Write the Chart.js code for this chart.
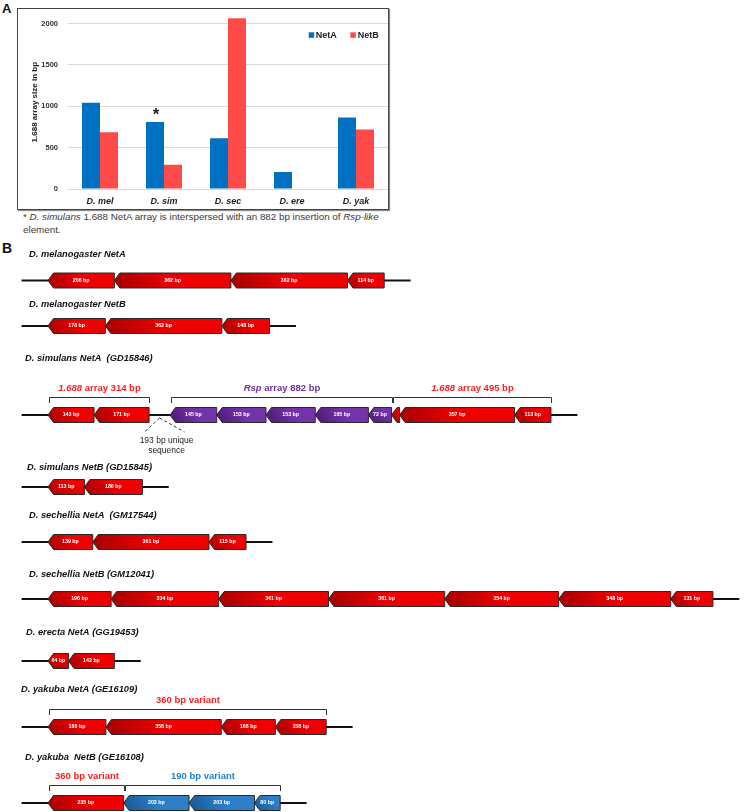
<!DOCTYPE html>
<html><head><meta charset="utf-8">
<script src="https://cdn.jsdelivr.net/npm/chart.js@4.4.0/dist/chart.umd.min.js"></script>
<style>
html,body{margin:0;padding:0;background:#fff;}
body{width:744px;height:812px;position:relative;overflow:hidden;font-family:'Liberation Sans',Arial,sans-serif;}
.letter{position:absolute;font-weight:bold;color:#111;line-height:1;}
#boxA{position:absolute;left:17px;top:8px;width:370px;height:200px;border:1px solid #444;box-shadow:1px 1px 1px rgba(0,0,0,0.45);}
#boxA canvas{display:block;}
#note{position:absolute;left:23px;top:209.5px;font-size:9.8px;line-height:13px;color:#3a3a3a;white-space:nowrap;}
#wrapB{position:absolute;left:0;top:240px;width:744px;height:572px;}
#wrapB canvas{display:block;}
</style></head><body>
<div class="letter" style="left:2px;top:2px;font-size:13px;">A</div>
<div id="boxA"><canvas id="chartA" width="370" height="200"></canvas></div>
<div id="note">* <i>D. simulans</i> 1.688 NetA array is interspersed with an 882 bp insertion of <i>Rsp-like</i><br>element.</div>
<div class="letter" style="left:2px;top:241px;font-size:14px;">B</div>
<div id="wrapB"><canvas id="chartB" width="744" height="572"></canvas></div>
<script>
// ---------------- DATA ----------------
const speciesLabels = ['D. mel', 'D. sim', 'D. sec', 'D. ere', 'D. yak'];
const netA = [1044, 809, 615, 206, 864];
const netB = [688, 293, 2065, null, 721];
const yTicks = [0, 500, 1000, 1500, 2000];

const rowTitles = [
  'D. melanogaster NetA',
  'D. melanogaster NetB',
  'D. simulans NetA  (GD15846)',
  'D. simulans NetB (GD15845)',
  'D. sechellia NetA  (GM17544)',
  'D. sechellia NetB (GM12041)',
  'D. erecta NetA (GG19453)',
  'D. yakuba NetA (GE16109)',
  'D. yakuba  NetB (GE16108)'
];
const melNetA = [206, 362, 362, 114];
const melNetB = [178, 362, 148];
const simNetA_left = [143, 171];
const simNetA_unique = 193;
const simNetA_rsp = [145, 153, 153, 165, 72];
const simNetA_right = [25, 357, 113];
const simNetB = [113, 180];
const secNetA = [139, 361, 115];
const secNetB = [196, 334, 341, 361, 354, 348, 131];
const ereNetA = [64, 142];
const yakNetA = [180, 358, 168, 158];
const yakNetB_360 = [235];
const yakNetB_190 = [203, 203, 80];

const label314 = [['1.688', true], [' array 314 bp', false]];
const label882 = [['Rsp', true], [' array 882 bp', false]];
const label495 = [['1.688', true], [' array 495 bp', false]];
const label360 = [['360 bp variant', false]];
const label190 = [['190 bp variant', false]];

// ---------------- STYLE / LAYOUT ----------------
const FONT = "'Liberation Sans', Arial, sans-serif";

const rows = [
  [{kind:'red', bp:melNetA}],
  [{kind:'red', bp:melNetB}],
  [{kind:'red', bp:simNetA_left, bracket:label314},
   {kind:'gap', bp:simNetA_unique},
   {kind:'purple', bp:simNetA_rsp, bracket:label882},
   {kind:'red', bp:simNetA_right, bracket:label495}],
  [{kind:'red', bp:simNetB}],
  [{kind:'red', bp:secNetA}],
  [{kind:'red', bp:secNetB}],
  [{kind:'red', bp:ereNetA}],
  [{kind:'red', bp:yakNetA, bracket:label360}],
  [{kind:'red', bp:yakNetB_360, bracket:label360},
   {kind:'blue', bp:yakNetB_190, bracket:label190}]
];
const ROW_LAYOUT = [
  {line:280.5, title:254, tx:29},
  {line:326, title:304, tx:29},
  {line:415, title:358, tx:25},
  {line:487, title:467, tx:27},
  {line:542, title:515, tx:29},
  {line:599, title:574, tx:29},
  {line:661, title:632, tx:26},
  {line:727, title:689, tx:21},
  {line:803, title:757, tx:25}
];
const COLORS = {
  red:{dark:'#a30000', light:'#ee0000', text:'#ff1f1f'},
  purple:{dark:'#48196f', light:'#7533ab', text:'#7030a0'},
  blue:{dark:'#175690', light:'#2e7fc8', text:'#1e82d2'}
};
const PX_PER_BP = 0.322, ORIGIN_PX = 48, CANVAS_B_W = 744;
const X_MIN = -ORIGIN_PX / PX_PER_BP, X_MAX = X_MIN + CANVAS_B_W / PX_PER_BP;
const FLANK_BP = 82, UNIQUE_GAP_BP = 65;

// ---------------- CHART A ----------------
const extrasA = {
  id:'extrasA',
  afterDatasetsDraw(chart){
    const ctx = chart.ctx;
    const bar = chart.getDatasetMeta(0).data[1];
    ctx.save();
    ctx.fillStyle = '#222';
    ctx.font = `bold 17px ${FONT}`;
    ctx.textAlign = 'center';
    ctx.textBaseline = 'alphabetic';
    ctx.fillText('*', bar.x + 1, bar.y - 2);
    // legend
    const items = [[290.7, 297.7], [332.3, 339.7]];
    chart.data.datasets.forEach((ds, i) => {
      ctx.fillStyle = ds.backgroundColor;
      ctx.fillRect(items[i][0], 23.3, 5.5, 5.5);
      ctx.fillStyle = '#222';
      ctx.font = `bold 9px ${FONT}`;
      ctx.textAlign = 'left';
      ctx.textBaseline = 'middle';
      ctx.fillText(ds.label, items[i][1], 26.3);
    });
    ctx.restore();
  }
};

new Chart(document.getElementById('chartA'), {
  type:'bar',
  data:{labels:speciesLabels, datasets:[
    {label:'NetA', data:netA, backgroundColor:'#0070C0', categoryPercentage:0.5625, barPercentage:1},
    {label:'NetB', data:netB, backgroundColor:'#FF4A4A', categoryPercentage:0.5625, barPercentage:1}
  ]},
  options:{
    responsive:false, animation:false, devicePixelRatio:1,
    layout:{padding:{left:8, top:6.4, right:0, bottom:0}},
    plugins:{legend:{display:false}, tooltip:{enabled:false}},
    scales:{
      x:{grid:{display:false, drawTicks:false, tickLength:0}, border:{display:false},
         ticks:{padding:7, color:'#222', font:{family:FONT, size:9, weight:'bold', style:'italic'}},
         afterFit(s){ s.height = 20; s.paddingLeft = 0; s.paddingRight = 0; }},
      y:{min:0, max:2100,
         afterBuildTicks(s){ s.ticks = yTicks.map(v => ({value:v})); },
         grid:{color:'#d9d9d9', drawTicks:false, tickLength:0}, border:{display:false},
         ticks:{padding:10, color:'#333', font:{family:FONT, size:7.5, weight:'bold'}, callback:(v) => String(v)},
         title:{display:true, text:'1.688 array size in bp', color:'#222', font:{family:FONT, size:8, weight:'bold'}, padding:{top:4, bottom:4}},
         afterFit(s){ s.width = 42; s.paddingTop = 0; s.paddingBottom = 0; }}
    }
  },
  plugins:[extrasA]
});

// ---------------- CHART B ----------------
function drawArrow(ctx, x0, x1, yc, kind, bp){
  const h = 7.5, head = Math.min(5.5, (x1 - x0) * 0.7);
  ctx.beginPath();
  ctx.moveTo(x0, yc);
  ctx.lineTo(x0 + head, yc - h);
  ctx.lineTo(x1, yc - h);
  ctx.lineTo(x1, yc + h);
  ctx.lineTo(x0 + head, yc + h);
  ctx.closePath();
  const c = COLORS[kind];
  const g = ctx.createLinearGradient(x0, yc + h, x0 + (x1 - x0) * 0.5, yc - h);
  g.addColorStop(0, c.dark);
  g.addColorStop(1, c.light);
  ctx.fillStyle = g;
  ctx.fill();
  ctx.strokeStyle = '#2a2a2a';
  ctx.lineWidth = 1;
  ctx.stroke();
  if (bp >= 40) {
    ctx.fillStyle = '#fff';
    ctx.font = `bold 5.3px ${FONT}`;
    ctx.textAlign = 'center';
    ctx.textBaseline = 'middle';
    ctx.fillText(bp + ' bp', (x0 + x1) / 2, yc);
  }
}

function drawParts(ctx, parts, cx, cy, color, size){
  let total = 0;
  const fonts = parts.map(([t, it]) => `${it ? 'italic ' : ''}bold ${size}px ${FONT}`);
  parts.forEach(([t], i) => { ctx.font = fonts[i]; total += ctx.measureText(t).width; });
  let x = cx - total / 2;
  ctx.fillStyle = color;
  ctx.textAlign = 'left';
  ctx.textBaseline = 'middle';
  parts.forEach(([t], i) => { ctx.font = fonts[i]; ctx.fillText(t, x, cy); x += ctx.measureText(t).width; });
}

const diagram = {
  id:'diagram',
  afterDraw(chart){
    const {ctx, scales:{x, y}} = chart;
    ctx.save();
    rows.forEach((blocks, i) => {
      const L = ROW_LAYOUT[i];
      const yc = y.getPixelForValue(L.line);
      ctx.font = `italic bold 9.3px ${FONT}`;
      ctx.fillStyle = '#111';
      ctx.textAlign = 'left';
      ctx.textBaseline = 'middle';
      ctx.fillText(rowTitles[i], L.tx, y.getPixelForValue(L.title));

      let pos = 0; const segs = [], brackets = []; let gapCenter = null, gapBp = null;
      blocks.forEach(b => {
        if (b.kind === 'gap') { gapCenter = pos + UNIQUE_GAP_BP / 2; gapBp = b.bp; pos += UNIQUE_GAP_BP; return; }
        const start = pos;
        b.bp.forEach(v => { segs.push({s:pos, e:pos + v, bp:v, kind:b.kind}); pos += v; });
        if (b.bracket) brackets.push({s:start, e:pos, label:b.bracket, kind:b.kind});
      });
      // flanking line
      ctx.strokeStyle = '#111';
      ctx.lineWidth = 2;
      ctx.setLineDash([]);
      ctx.beginPath();
      ctx.moveTo(x.getPixelForValue(-FLANK_BP), yc);
      ctx.lineTo(x.getPixelForValue(pos + FLANK_BP), yc);
      ctx.stroke();
      segs.forEach(sg => drawArrow(ctx, x.getPixelForValue(sg.s), x.getPixelForValue(sg.e), yc, sg.kind, sg.bp));
      // brackets
      brackets.forEach(bk => {
        const bx0 = Math.round(x.getPixelForValue(bk.s) + 1) + 0.5;
        const bx1 = Math.round(x.getPixelForValue(bk.e)) + 0.5;
        const by = Math.round(yc - 18) + 0.5, tb = yc - 12;
        ctx.strokeStyle = '#333';
        ctx.lineWidth = 1;
        ctx.beginPath();
        ctx.moveTo(bx0, tb); ctx.lineTo(bx0, by); ctx.lineTo(bx1, by); ctx.lineTo(bx1, tb);
        ctx.stroke();
        drawParts(ctx, bk.label, (bx0 + bx1) / 2, by - 9, COLORS[bk.kind].text, 9.5);
      });
      // unique sequence annotation
      if (gapCenter !== null) {
        const gx = x.getPixelForValue(gapCenter);
        ctx.strokeStyle = '#333';
        ctx.lineWidth = 1;
        ctx.setLineDash([3, 2.5]);
        ctx.beginPath();
        ctx.moveTo(gx, yc + 3); ctx.lineTo(gx - 15, yc + 17);
        ctx.moveTo(gx, yc + 3); ctx.lineTo(gx + 25, yc + 17);
        ctx.stroke();
        ctx.setLineDash([]);
        ctx.fillStyle = '#222';
        ctx.font = `8.5px ${FONT}`;
        ctx.textAlign = 'center';
        ctx.textBaseline = 'middle';
        ctx.fillText(gapBp + ' bp unique', gx + 7, yc + 26);
        ctx.fillText('sequence', gx + 7, yc + 36);
      }
    });
    ctx.restore();
  }
};

new Chart(document.getElementById('chartB'), {
  type:'scatter',
  data:{datasets:[]},
  options:{
    responsive:false, animation:false, devicePixelRatio:1,
    layout:{padding:0},
    plugins:{legend:{display:false}, tooltip:{enabled:false}},
    scales:{
      x:{type:'linear', display:false, min:X_MIN, max:X_MAX},
      y:{type:'linear', display:false, min:240, max:812, reverse:true}
    }
  },
  plugins:[diagram]
});
</script>
</body></html>
